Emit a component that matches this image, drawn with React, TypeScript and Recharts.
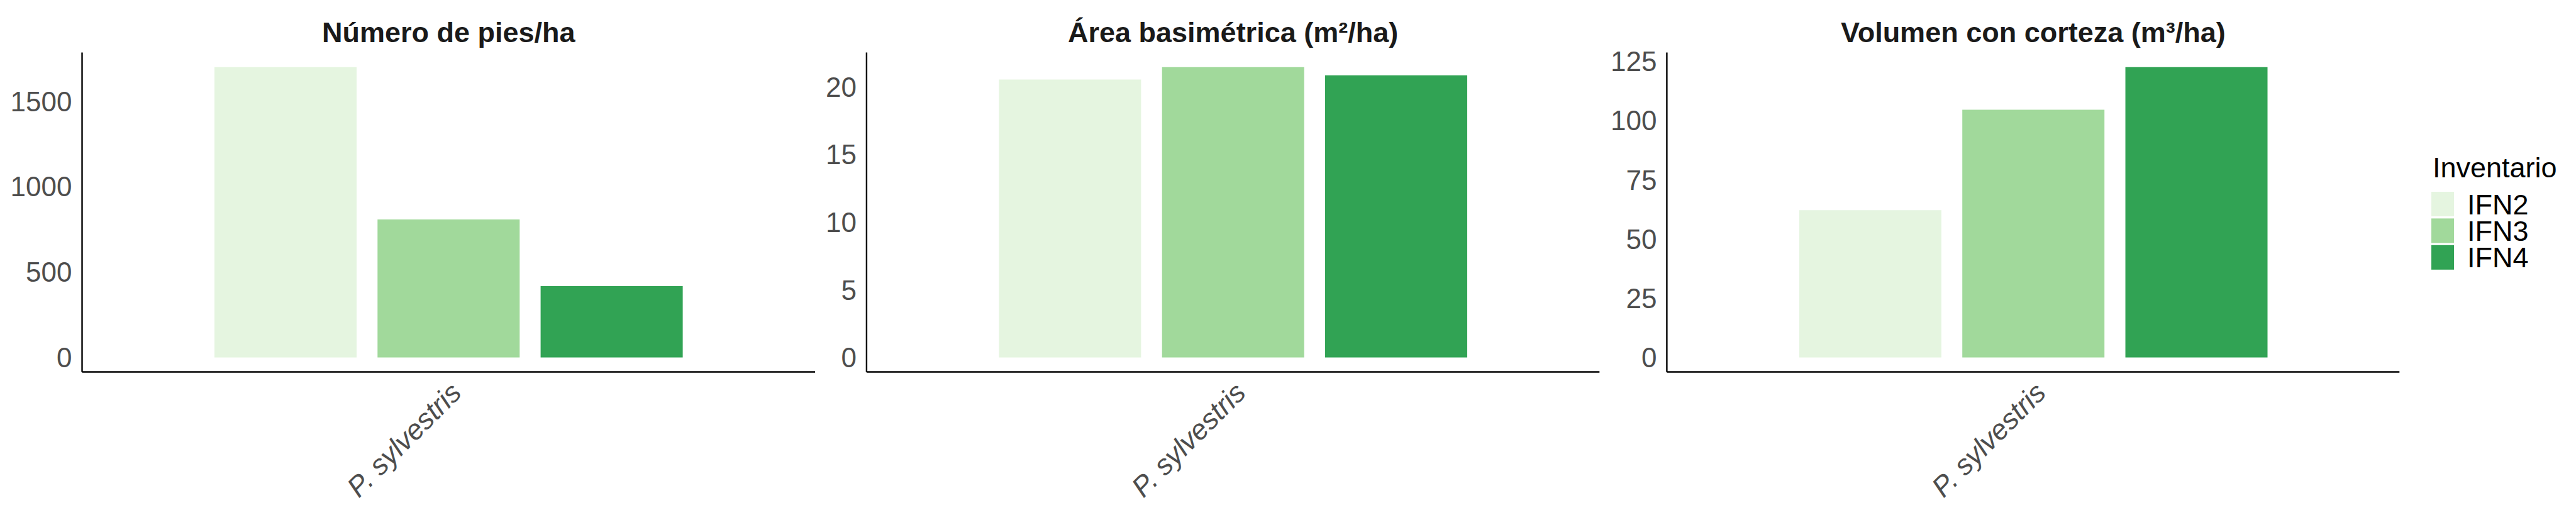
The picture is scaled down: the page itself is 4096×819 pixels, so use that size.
import { Bar, BarChart, XAxis, YAxis } from "recharts";

// --- data ---
const species = ["P. sylvestris"];
const inventories = ["IFN2", "IFN3", "IFN4"];
const inventoryColors = ["#E5F5E0", "#A1D99B", "#31A354"];

const piesHa = [1700, 808, 418];
const areaBasimetrica = [20.55, 21.47, 20.86];
const volumenCorteza = [62.2, 104.6, 122.6];

const piesTicks = [0, 500, 1000, 1500];
const areaTicks = [0, 5, 10, 15, 20];
const volumenTicks = [0, 25, 50, 75, 100, 125];

const panelTitles = ["Número de pies/ha", "Área basimétrica (m²/ha)", "Volumen con corteza (m³/ha)"];
const legendTitle = "Inventario";

// --- layout (window is 4096x819) ---
const H = 819;
const PLOT_TOP = 83.6;
const PLOT_BOTTOM = 591.5;
const FONT = "'Liberation Sans', Arial, Helvetica, sans-serif";
const AXIS_TEXT = "#4D4D4D";

const panels = [
  { title: panelTitles[0], values: piesHa, ticks: piesTicks, left: 0, width: 1310, yWidth: 130.5, right: 14 },
  { title: panelTitles[1], values: areaBasimetrica, ticks: areaTicks, left: 1310, width: 1250, yWidth: 67.9, right: 16.7 },
  { title: panelTitles[2], values: volumenCorteza, ticks: volumenTicks, left: 2560, width: 1536, yWidth: 90.4, right: 280.7 },
];

function buildRows(values: number[]) {
  return species.map((s) => {
    const row: Record<string, string | number> = { species: s };
    inventories.forEach((inv, i) => (row[inv] = values[i]));
    return row;
  });
}

function SpeciesTick(props: any) {
  const { x, y, payload } = props;
  return (
    <g transform={`translate(${x},${y})`}>
      <text
        x={0}
        y={0}
        dy="0.72em"
        textAnchor="end"
        transform="rotate(-45)"
        fontFamily={FONT}
        fontSize={45}
        fontStyle="italic"
        fill={AXIS_TEXT}
      >
        {payload.value}
      </text>
    </g>
  );
}

function Panel({ p }: { p: (typeof panels)[number] }) {
  const max = Math.max(...p.values);
  // ggplot-like 5% expansion on both ends
  const domain = [-0.05 * max, 1.05 * max];
  return (
    <div style={{ position: "absolute", left: p.left, top: 0 }}>
      <BarChart
        width={p.width}
        height={H}
        data={buildRows(p.values)}
        margin={{ top: PLOT_TOP, right: p.right, left: 0, bottom: 0 }}
        barCategoryGap={210.5}
        barGap={33.3}
      >
        <XAxis
          dataKey="species"
          height={H - PLOT_BOTTOM}
          tickLine={false}
          axisLine={{ stroke: "#000", strokeWidth: 2.4 }}
          tickSize={0}
          tickMargin={13}
          interval={0}
          tick={<SpeciesTick />}
        />
        <YAxis
          type="number"
          width={p.yWidth}
          domain={domain}
          allowDataOverflow
          ticks={p.ticks}
          tickLine={false}
          axisLine={{ stroke: "#000", strokeWidth: 2.4 }}
          tickSize={0}
          tickMargin={16}
          tick={{ fontSize: 44, fill: AXIS_TEXT, fontFamily: FONT }}
        />
        {inventories.map((inv, i) => (
          <Bar key={inv} dataKey={inv} fill={inventoryColors[i]} isAnimationActive={false} />
        ))}
      </BarChart>
    </div>
  );
}

export default function App() {
  return (
    <div style={{ position: "absolute", left: 0, top: 0, width: 4096, height: H, background: "#fff" }}>
      {panels.map((p, i) => (
        <Panel key={i} p={p} />
      ))}
      <svg width={4096} height={H} style={{ position: "absolute", left: 0, top: 0, pointerEvents: "none" }}>
        {panels.map((p, i) => {
          const plotLeft = p.left + p.yWidth;
          const plotRight = p.left + p.width - p.right;
          return (
            <text
              key={i}
              x={(plotLeft + plotRight) / 2}
              y={66.6}
              textAnchor="middle"
              fontFamily={FONT}
              fontWeight="bold"
              fontSize={45}
              fill="#1A1A1A"
            >
              {p.title}
            </text>
          );
        })}
        <text x={3868} y={282.3} fontFamily={FONT} fontSize={45} fill="#000">
          {legendTitle}
        </text>
        {inventories.map((inv, i) => (
          <g key={inv}>
            <rect x={3866} y={305 + i * 42.4} width={36} height={39} fill={inventoryColors[i]} />
            <text x={3923} y={341 + i * 42.2} fontFamily={FONT} fontSize={45} fill="#000">
              {inv}
            </text>
          </g>
        ))}
      </svg>
    </div>
  );
}
